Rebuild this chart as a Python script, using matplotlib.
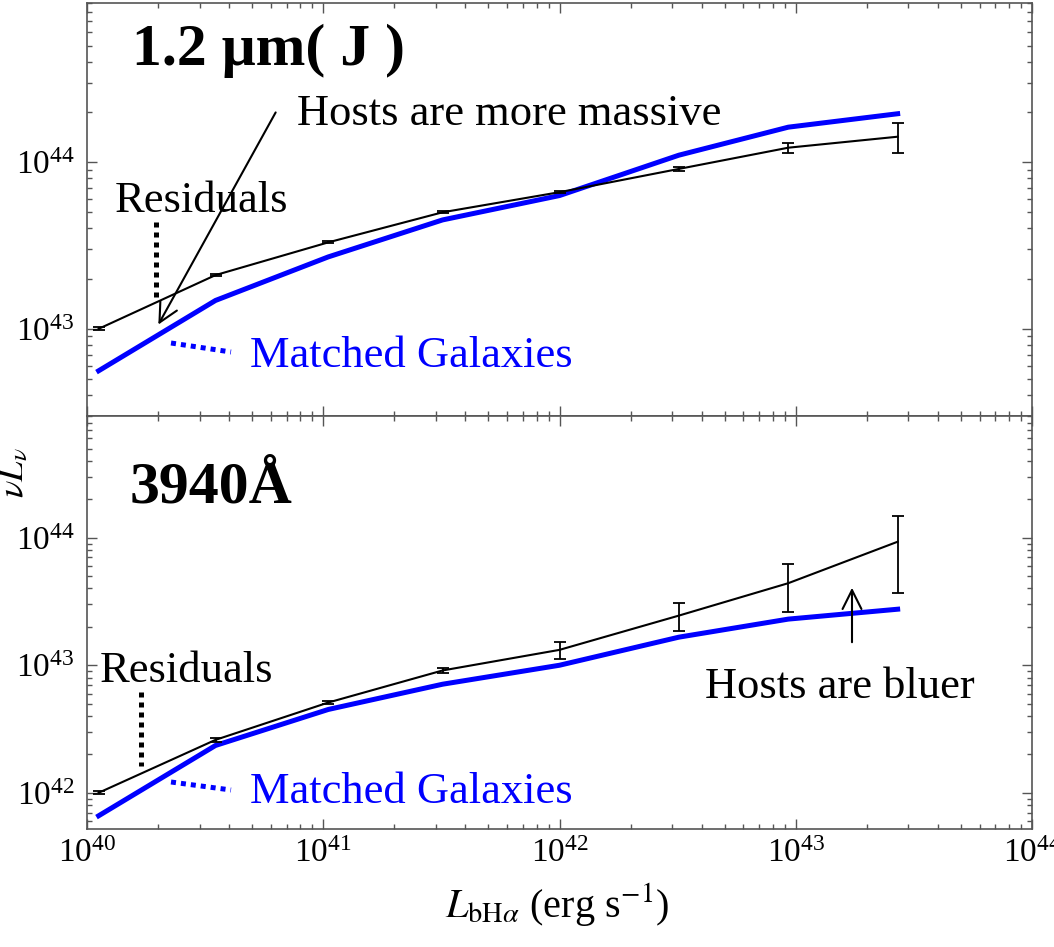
import matplotlib
matplotlib.use('Agg')
import matplotlib.pyplot as plt
from matplotlib.lines import Line2D
from matplotlib.ticker import NullFormatter

plt.rcParams['font.family'] = 'serif'
plt.rcParams['font.serif'] = ['Liberation Serif', 'DejaVu Serif']
plt.rcParams['mathtext.fontset'] = 'stix'

# broad H-alpha luminosity bins (erg/s)
lum_bha = [1.12e40, 3.5e40, 1.05e41, 3.2e41, 1.0e42, 3.2e42, 9.3e42, 2.7e43]

# 1.2 micron (J band)
j_resid = [1.0e43, 2.1e43, 3.3e43, 5.0e43, 6.6e43, 9.1e43, 1.22e44, 1.42e44]
j_resid_err = [0.02e43, 0.03e43, 0.05e43, 0.08e43, 0.1e43, 0.3e43, 0.08e44, 0.29e44]
j_matched = [5.6e42, 1.48e43, 2.7e43, 4.5e43, 6.3e43, 1.1e44, 1.62e44, 1.95e44]

# 3940 Angstrom
b_resid = [1.0e42, 2.6e42, 5.1e42, 9.1e42, 1.32e43, 2.45e43, 4.4e43, 9.3e43]
b_resid_err = [0.03e42, 0.1e42, 0.15e42, 0.4e42, 0.2e43, 0.6e43, 1.8e43, 5.6e43]
b_matched = [6.6e41, 2.35e42, 4.5e42, 7.1e42, 1.0e43, 1.66e43, 2.3e43, 2.75e43]

W, H = 1054, 947
fig = plt.figure(figsize=(W / 100, H / 100), dpi=100)


def px(x, y):
    # reference pixel position -> figure fraction
    return (x / W, 1 - y / H)


left, right = 87, 1032
ax_top = fig.add_axes([left / W, 1 - 416 / H, (right - left) / W, 413 / H])
ax_bot = fig.add_axes([left / W, 1 - 829 / H, (right - left) / W, 413 / H])

grey = '#555555'
for ax, resid, err, matched, ylim in [
        (ax_top, j_resid, j_resid_err, j_matched, (3.0e42, 9.0e44)),
        (ax_bot, b_resid, b_resid_err, b_matched, (5.2e41, 9.0e44))]:
    ax.plot(lum_bha, matched, color='#0000ff', lw=3.6, zorder=2)
    ax.errorbar(lum_bha, resid, yerr=err, color='k', lw=1.5, elinewidth=1.3,
                capsize=4.5, capthick=1.3, zorder=3)
    ax.set_xscale('log')
    ax.set_yscale('log')
    ax.set_xlim(1e40, 1e44)
    ax.set_ylim(*ylim)
    ax.yaxis.set_minor_formatter(NullFormatter())
    ax.xaxis.set_minor_formatter(NullFormatter())
    ax.tick_params(which='both', direction='in', top=True, right=True,
                   color=grey, width=1.0, labelsize=24)
    ax.tick_params(which='major', length=7)
    ax.tick_params(which='minor', length=3.5)
    ax.tick_params(axis='y', pad=9)
    ax.tick_params(axis='x', pad=7)
    for s in ax.spines.values():
        s.set_color(grey)
        s.set_linewidth(1.2)

ax_top.tick_params(labelbottom=False)

# axis labels
fig.text(*px(557, 917), r'$L_{{\rm bH}\alpha}$ (erg s$^{-1}$)', fontsize=29,
         ha='center', va='baseline')
fig.text(*px(15, 473), r'$\nu L_\nu$', fontsize=26, rotation=90,
         ha='center', va='center')


def note(x, y, s, size=32, color='k', bold=False):
    fig.text(*px(x, y), s, fontsize=size, color=color, ha='left',
             va='baseline', fontweight='bold' if bold else 'normal',
             family='Liberation Serif')


def dotted(x0, y0, x1, y1, color):
    fig.add_artist(Line2D([x0 / W, x1 / W], [1 - y0 / H, 1 - y1 / H],
                          transform=fig.transFigure, color=color, lw=3.6,
                          linestyle=(0, (1, 1))))


def arrow(tail, head):
    fig.add_artist(matplotlib.patches.FancyArrowPatch(
        px(*tail), px(*head), transform=fig.transFigure, arrowstyle='->',
        mutation_scale=34, lw=1.5, color='k'))


# top panel notes
note(132, 65, '1.2 μm( J )', size=43, bold=True)
note(297, 125, 'Hosts are more massive')
note(115, 212, 'Residuals')
note(250, 367, 'Matched Galaxies', color='#0000ff')
arrow((277, 110), (157, 327))
dotted(156, 222, 156, 298, 'k')
dotted(171, 343, 231, 352, '#0000ff')

# bottom panel notes
note(130, 502, '3940Å', size=43, bold=True)
note(100, 682, 'Residuals')
note(250, 803, 'Matched Galaxies', color='#0000ff')
note(705, 698, 'Hosts are bluer')
arrow((852, 645), (852, 585))
dotted(141, 692, 141, 766, 'k')
dotted(171, 782, 231, 790, '#0000ff')

fig.savefig('out.png', dpi=100)
